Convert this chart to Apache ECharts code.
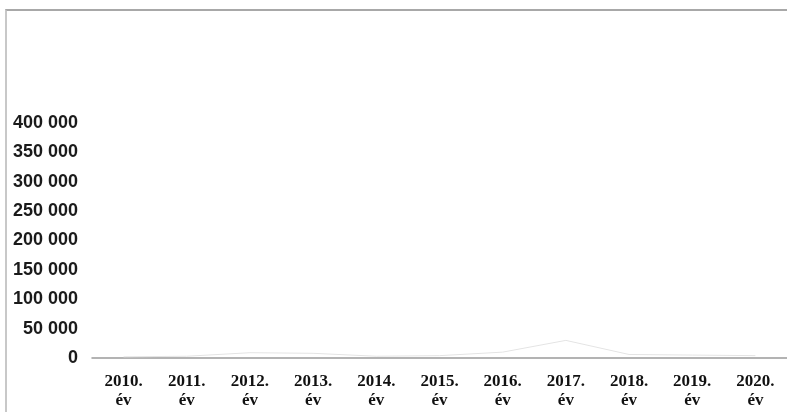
<!DOCTYPE html>
<html><head><meta charset="utf-8">
<script src="https://cdn.jsdelivr.net/npm/echarts@6/dist/echarts.min.js"></script>
<style>
html,body{margin:0;padding:0;background:#fff;}
#wrap{position:relative;width:787px;height:412px;overflow:hidden;}
#chart{position:absolute;left:0;top:0;width:787px;height:412px;}
#frame{position:absolute;left:5px;top:9px;width:790px;height:420px;border-top:2px solid #a8a8a8;border-left:2px solid #c8c8c8;pointer-events:none;}
</style></head>
<body><div id="wrap"><div id="chart"></div><div id="frame"></div></div>
<script>
const categories = ['2010.\név','2011.\név','2012.\név','2013.\név','2014.\név','2015.\név','2016.\név','2017.\név','2018.\név','2019.\név','2020.\név'];
const yTicks = [0, 50000, 100000, 150000, 200000, 250000, 300000, 350000, 400000];
// faded series in the scan: only faint traces near zero are visible
const seriesValues = [2000, 3000, 9000, 8000, 3000, 4000, 10000, 30000, 6000, 5000, 4000];

const chart = echarts.init(document.getElementById('chart'));
chart.setOption({
  animation:false,
  grid:{left:92, right:-5, top:123, bottom:54, containLabel:false},
  xAxis:{
    type:'category', data:categories, boundaryGap:true,
    axisLine:{show:true, lineStyle:{color:'#9a9a9a', width:1.5}},
    axisTick:{show:false},
    axisLabel:{interval:0, margin:14, color:'#111', fontFamily:'Liberation Serif', fontWeight:'bold', fontSize:17, lineHeight:19}
  },
  yAxis:{
    type:'value', min:yTicks[0], max:yTicks[yTicks.length-1], interval:50000,
    axisLine:{show:false}, axisTick:{show:false}, splitLine:{show:false},
    axisLabel:{margin:14, color:'#1a1a1a', fontFamily:'Liberation Sans', fontWeight:'bold', fontSize:18,
      formatter:v=>String(v).replace(/\B(?=(\d{3})+(?!\d))/g,' ')}
  },
  series:[{
    type:'line', data:seriesValues, symbol:'none',
    lineStyle:{color:'#e4e4e4', width:1}
  }]
});
</script></body></html>
